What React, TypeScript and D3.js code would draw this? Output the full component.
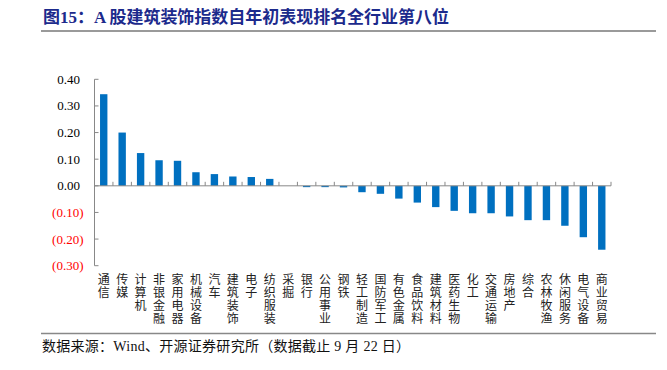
import React from 'react';
import * as d3 from 'd3';

const title = '图15：A 股建筑装饰指数自年初表现排名全行业第八位';
const source = '数据来源：Wind、开源证券研究所（数据截止 9 月 22 日）';
const categories = ['通信','传媒','计算机','非银金融','家用电器','机械设备','汽车','建筑装饰','电子','纺织服装','采掘','银行','公用事业','钢铁','轻工制造','国防军工','有色金属','食品饮料','建筑材料','医药生物','化工','交通运输','房地产','综合','农林牧渔','休闲服务','电气设备','商业贸易'];
const values = [0.344,0.200,0.123,0.096,0.094,0.051,0.044,0.035,0.033,0.026,0.0,-0.005,-0.005,-0.006,-0.024,-0.030,-0.048,-0.063,-0.080,-0.094,-0.103,-0.103,-0.115,-0.129,-0.129,-0.150,-0.193,-0.240];
const yTicks = [0.4,0.3,0.2,0.1,0,-0.1,-0.2,-0.3];

const W = 667, H = 370;
const serif = '"Liberation Serif","Times New Roman","Noto Sans CJK SC",serif';
const cjk = '"Liberation Serif","Noto Sans CJK SC",serif';

export default function App() {
  const x = d3.scaleBand<string>().domain(categories).range([94.5, 611]).paddingInner(0.6).paddingOuter(0.3);
  const step = x.step();
  const y = d3.scaleLinear().domain([-0.3, 0.4]).range([265.7, 79.3]);
  const y0 = y(0);
  const fmt = (v: number) => (v < 0 ? `(${d3.format('.2f')(-v)})` : d3.format('.2f')(v));
  const boundaries = d3.range(categories.length + 1).map(i => 94.5 + i * step);
  return (
    <svg width={W} height={H} style={{ position: 'absolute', left: 0, top: 0, background: '#fff' }}>
      <text x={43} y={22.5} fontFamily={cjk} fontSize={17} fontWeight="bold" fill="#1C2A8C"
        textLength={406} lengthAdjust="spacing">{title}</text>
      <line x1={41} x2={656} y1={31} y2={31} stroke="#9a9a9a" strokeWidth={2} />
      {/* y axis */}
      <line x1={94.5} x2={94.5} y1={y(0.4)} y2={y(-0.3)} stroke="#888" strokeWidth={1} />
      {yTicks.map(t => (
        <g key={t}>
          <line x1={94.5} x2={98.5} y1={y(t)} y2={y(t)} stroke="#888" />
          <text x={t < 0 ? 83.5 : 80} y={y(t) + 4.5} textAnchor="end" fontFamily={serif} fontSize={13}
            fill={t < 0 ? '#FF0000' : '#000'}>{fmt(t)}</text>
        </g>
      ))}
      {/* bars */}
      {categories.map((c, i) => {
        const v = values[i];
        const top = Math.min(y(v), y0);
        const h = Math.abs(y(v) - y0);
        return <rect key={c} x={x(c)} y={top} width={x.bandwidth()} height={h} fill="#0070C0" />;
      })}
      {/* x axis at zero */}
      <line x1={94.5} x2={611} y1={y0} y2={y0} stroke="#888" strokeWidth={1} />
      {boundaries.map((b, i) => (
        <line key={i} x1={b} x2={b} y1={y0} y2={y0 - 4} stroke="#888" />
      ))}
      {/* category labels */}
      {categories.map(c => (
        <g key={c}>
          {Array.from(c).map((ch, j) => (
            <text key={j} x={(x(c) as number) + x.bandwidth() / 2} y={283.5 + j * 13.3} textAnchor="middle"
              fontFamily={cjk} fontSize={12} fill="#222">{ch}</text>
          ))}
        </g>
      ))}
      <line x1={41} x2={656} y1={333.5} y2={333.5} stroke="#888" strokeWidth={1.5} />
      <text x={42} y={351} fontFamily={cjk} fontSize={14} fill="#111"
        textLength={368} lengthAdjust="spacing">{source}</text>
    </svg>
  );
}
